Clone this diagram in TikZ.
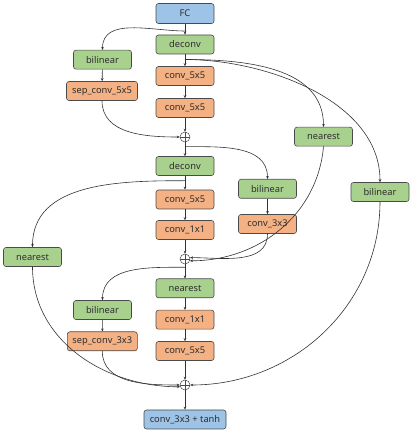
\documentclass[tikz,border=0pt]{standalone}
\usepackage{fontspec}
\setmainfont{Noto Sans}
\usetikzlibrary{arrows.meta}
\definecolor{cblue}{HTML}{9DC3E6}
\definecolor{cgreen}{HTML}{A9D18E}
\definecolor{corange}{HTML}{F4B183}
\definecolor{cborder}{HTML}{4A4A4A}
\definecolor{ctext}{HTML}{2E2E2E}
\begin{document}
\begin{tikzpicture}[x=1pt,y=1pt,
  box/.style={draw=cborder,line width=0.6pt,rounded corners=2.5pt,minimum height=19pt,inner sep=0pt,text=ctext,font=\fontsize{9.3}{11}\selectfont},
  gbox/.style={box,fill=cgreen,minimum width=58pt},
  obox/.style={box,fill=corange,minimum width=58pt},
  bbox/.style={box,fill=cblue,minimum width=58pt},
  plusnode/.style={circle,draw=cborder,line width=0.5pt,minimum size=10pt,inner sep=0pt,
    path picture={\draw[cborder,line width=0.5pt] (path picture bounding box.north) -- (path picture bounding box.south) (path picture bounding box.west) -- (path picture bounding box.east);}},
  arr/.style={draw=black!80,line width=0.6pt,-{Stealth[length=3pt,width=2.6pt]}}]
\useasboundingbox (0,0) rectangle (415,432);
% nodes
\node[bbox,minimum height=20pt] (fc) at (185,418.5) {FC};
\node[gbox] (d1) at (185,387.5) {deconv};
\node[gbox] (bil1) at (102.5,372.3) {bilinear};
\node[obox,minimum width=71pt] (sep5) at (102,341) {sep\_conv\_5x5};
\node[obox] (c5a) at (185,356) {conv\_5x5};
\node[obox] (c5b) at (185,324) {conv\_5x5};
\node[plusnode] (p1) at (185,295) {};
\node[gbox] (nearR) at (323.5,295.3) {nearest};
\node[gbox] (bilF) at (380,240) {bilinear};
\node[gbox] (bilM) at (267.5,243.2) {bilinear};
\node[gbox] (d2) at (185,266) {deconv};
\node[obox] (c5c) at (185,232.5) {conv\_5x5};
\node[obox] (c1a) at (185,202) {conv\_1x1};
\node[obox] (c3) at (267.5,208) {conv\_3x3};
\node[gbox] (nearL) at (32.5,175) {nearest};
\node[plusnode] (p2) at (185,173) {};
\node[gbox] (nearM) at (185,143.7) {nearest};
\node[gbox] (bilL) at (102.5,122) {bilinear};
\node[obox,minimum width=70pt] (sep3) at (102.3,90.7) {sep\_conv\_3x3};
\node[obox] (c1b) at (185,112.3) {conv\_1x1};
\node[obox] (c5d) at (185,81) {conv\_5x5};
\node[plusnode] (p3) at (185,47) {};
\node[bbox,minimum width=82pt] (out) at (185,12.5) {conv\_3x3 + tanh};
% branch points
\coordinate (b0) at (185,401);
\coordinate (b1) at (185,372.5);
\coordinate (b2) at (185,285.3);
\coordinate (b3) at (185,251.3);
\coordinate (b4) at (185,164.7);
% main chain
\draw[arr] (fc) -- (d1);
\draw[arr] (d1) -- (c5a);
\draw[arr] (c5a) -- (c5b);
\draw[arr] (c5b) -- (p1);
\draw[arr] (p1) -- (d2);
\draw[arr] (d2) -- (c5c);
\draw[arr] (c5c) -- (c1a);
\draw[arr] (c1a) -- (p2);
\draw[arr] (p2) -- (nearM);
\draw[arr] (nearM) -- (c1b);
\draw[arr] (c1b) -- (c5d);
\draw[arr] (c5d) -- (p3);
\draw[arr] (p3) -- (out);
\draw[arr] (bil1) -- (sep5);
\draw[arr] (bilM) -- (c3);
\draw[arr] (bilL) -- (sep3);
% branches
\draw[arr] (b0) to[out=180,in=90] (bil1.north);
\draw[arr] (b1) to[out=0,in=90] (nearR.north);
\draw[arr] (b1) to[out=0,in=90,looseness=0.9] (bilF.north);
\draw[arr] (sep5.south) to[out=-90,in=180] (p1.west);
\draw[arr] (b2) to[out=0,in=90] (bilM.north);
\draw[arr] (b3) to[out=180,in=90] (nearL.north);
\draw[arr] (c3.south) to[out=-90,in=0] (p2.15);
\draw[arr] (nearR.south) to[out=-95,in=0] (p2.-20);
\draw[arr] (b4) to[out=180,in=90] (bilL.north);
\draw[arr] (sep3.south) to[out=-90,in=180] (p3.180);
\draw[arr] (nearL.south) to[out=-90,in=180] (p3.200);
\draw[arr] (bilF.south) to[out=-90,in=0] (p3.east);
\end{tikzpicture}
\end{document}
